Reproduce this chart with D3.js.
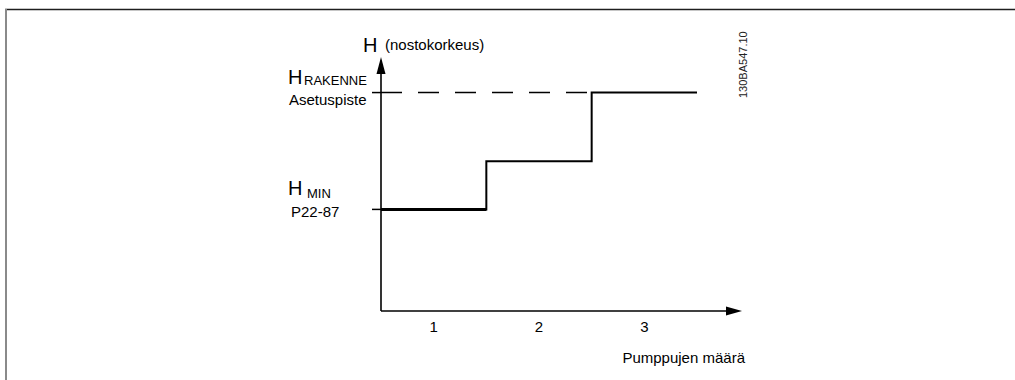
<!DOCTYPE html>
<html>
<head>
<meta charset="utf-8">
<script src="https://cdn.jsdelivr.net/npm/d3@7"></script>
<style>
  html, body { margin: 0; padding: 0; background: #fff; }
  svg { display: block; font-family: "Liberation Sans", Arial, sans-serif; }
</style>
</head>
<body>
<svg id="chart" width="1015" height="380"></svg>
<script>
// Pump staging: delivered head steps up as more pumps come online
const pumpCounts = ["1", "2", "3"];
const headLevels = [4.0, 5.9, 8.6];      // head reached with 1, 2, 3 pumps
const minHead = 4.0;                      // H_MIN (P22-87)
const setpointHead = 8.6;                 // H_RAKENNE / setpoint
const xTitle = "Pumppujen määrä";
const yTitle = "(nostokorkeus)";
const docCode = "130BA547.10";

const svg = d3.select("#chart");

// frame
svg.append("line").attr("x1", 5).attr("x2", 1015).attr("y1", 9.5).attr("y2", 9.5)
  .attr("stroke", "#1e1e1e").attr("stroke-width", 1.6);
svg.append("line").attr("x1", 6).attr("x2", 6).attr("y1", 9).attr("y2", 380)
  .attr("stroke", "#8a8a8a").attr("stroke-width", 2);

// scales
const x = d3.scaleBand().domain(pumpCounts).range([381, 697]).padding(0);
const y = d3.scaleLinear().domain([0, 10]).range([311, 57]);

const x0 = x.range()[0];
const yBase = y(0);

// axes with arrowheads
const g = svg.append("g");
g.append("line").attr("x1", x0).attr("x2", x0).attr("y1", yBase).attr("y2", 70)
  .attr("stroke", "#000").attr("stroke-width", 1.6);
g.append("path").attr("d", `M${x0},57 L${x0 - 4.5},74 L${x0 + 4.5},74 Z`).attr("fill", "#000");
g.append("line").attr("x1", x0).attr("x2", 730).attr("y1", yBase).attr("y2", yBase)
  .attr("stroke", "#000").attr("stroke-width", 1.6);
g.append("path").attr("d", `M742,${yBase} L726,${yBase - 4.5} L726,${yBase + 4.5} Z`).attr("fill", "#000");

// x category labels
const xAxis = d3.axisBottom(x).tickSize(0).tickPadding(0);
const ax = svg.append("g").attr("transform", `translate(0,${yBase + 10})`).call(xAxis);
ax.select(".domain").remove();
ax.selectAll("text").attr("font-size", 15).attr("fill", "#000")
  .attr("font-family", "Liberation Sans, Arial, sans-serif").attr("dy", "0.71em");

// reference level ticks on the y axis
[minHead, setpointHead].forEach(v => {
  svg.append("line").attr("x1", 372).attr("x2", x0).attr("y1", y(v)).attr("y2", y(v))
    .attr("stroke", "#000").attr("stroke-width", 1.5);
});

// dashed setpoint line up to where the third pump reaches it
const lastStart = x(pumpCounts[pumpCounts.length - 1]);
svg.append("line").attr("x1", x0).attr("x2", lastStart).attr("y1", y(setpointHead)).attr("y2", y(setpointHead))
  .attr("stroke", "#000").attr("stroke-width", 1.5)
  .attr("stroke-dasharray", "21,16").attr("stroke-dashoffset", -0);

// staged head curve
const pts = [];
pumpCounts.forEach((c, i) => {
  pts.push([x(c), y(headLevels[i])]);
  pts.push([x(c) + x.bandwidth(), y(headLevels[i])]);
});
svg.append("path").attr("d", d3.line()(pts)).attr("fill", "none")
  .attr("stroke", "#000").attr("stroke-width", 2);
svg.append("line").attr("x1", x(pumpCounts[0])).attr("x2", x(pumpCounts[0]) + x.bandwidth())
  .attr("y1", y(headLevels[0])).attr("y2", y(headLevels[0]))
  .attr("stroke", "#000").attr("stroke-width", 3);

// titles and level labels
const txt = (xp, yp, size, s, anchor) => svg.append("text").attr("x", xp).attr("y", yp)
  .attr("font-size", size).attr("fill", "#000").attr("text-anchor", anchor || "start").text(s);

txt(363, 52, 20, "H");
txt(385, 50, 15, yTitle);
txt(745, 363, 15, xTitle, "end");

txt(288, 84, 20, "H");
txt(304, 85, 13, "RAKENNE");
txt(289, 105, 15, "Asetuspiste");

txt(288, 195, 20, "H");
txt(307, 198, 13, "MIN");
txt(291, 217, 15, "P22-87");

svg.append("text").attr("transform", "translate(747,98) rotate(-90)")
  .attr("font-size", 11).attr("fill", "#222").text(docCode);
</script>
</body>
</html>
